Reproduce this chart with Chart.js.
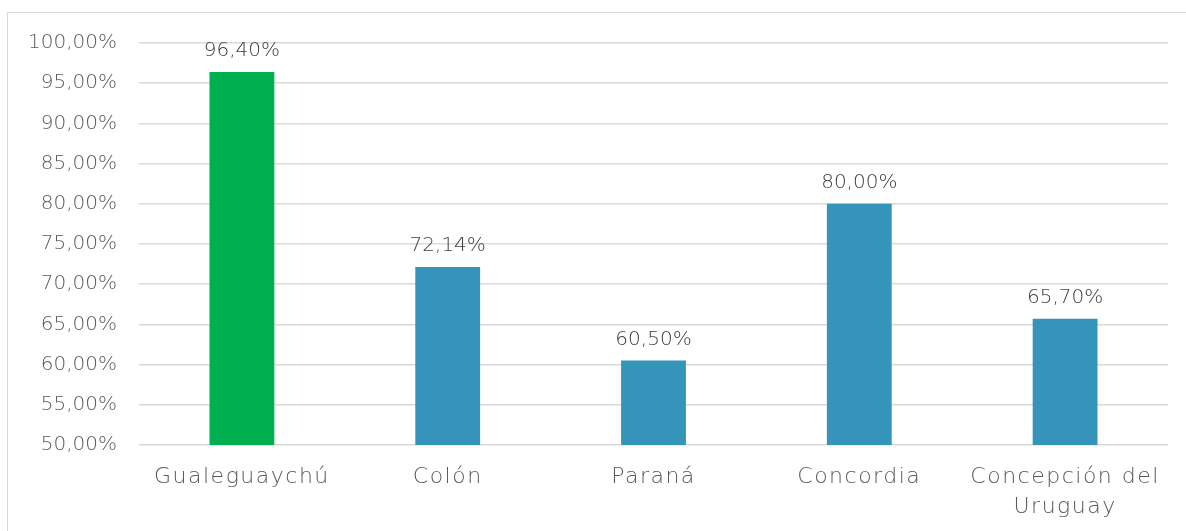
<!DOCTYPE html>
<html>
<head>
<meta charset="utf-8">
<script src="https://cdn.jsdelivr.net/npm/chart.js@4"></script>
<style>
  html, body { margin: 0; padding: 0; background: #fff; overflow: hidden; }
  #wrap { position: relative; width: 1186px; height: 531px; }
  #frame { position: absolute; left: 7px; top: 12px; width: 1200px; height: 540px;
           border: 1.5px solid #d9d9d9; box-sizing: border-box; }
  canvas { position: absolute; left: 0; top: 0; }
</style>
</head>
<body>
<div id="wrap">
  <div id="frame"></div>
  <canvas id="chart" width="1186" height="531"></canvas>
</div>
<script>
// ---------- Data ----------
const cities = ["Gualeguaychú", "Colón", "Paraná", "Concordia", ["Concepción del", "Uruguay"]];
const rates = [96.40, 72.14, 60.50, 80.00, 65.70];
const barColors = ["#00b050", "#3494ba", "#3494ba", "#3494ba", "#3494ba"];

const FONT = "'DejaVu Sans', sans-serif";
const fmt = (v) => v.toFixed(2).replace(".", ",") + "%";

// ---------- Value labels above bars + wider x labels ----------
const valueLabels = {
  id: "valueLabels",
  afterDatasetsDraw(chart) {
    const ctx = chart.ctx;
    const meta = chart.getDatasetMeta(0);
    ctx.save();
    ctx.letterSpacing = "0px";
    ctx.font = "200 20px " + FONT;
    ctx.fillStyle = "#404040";
    ctx.textAlign = "center";
    ctx.textBaseline = "alphabetic";
    meta.data.forEach((bar, i) => {
      ctx.fillText(fmt(rates[i]), bar.x, bar.y - 16);
    });
    ctx.restore();
    // x tick layer (z: 1) draws after this
    ctx.letterSpacing = "1.5px";
  },
  afterDraw(chart) {
    chart.ctx.letterSpacing = "0px";
  }
};

new Chart(document.getElementById("chart").getContext("2d"), {
  type: "bar",
  data: {
    labels: cities,
    datasets: [{
      data: rates,
      backgroundColor: barColors,
      borderWidth: 0,
      barPercentage: 0.63,
      categoryPercentage: 0.5
    }]
  },
  options: {
    responsive: false,
    animation: false,
    // y tick padding also pads the top, so the top value is absolute here
    layout: { padding: { left: 0, right: 18, top: 43, bottom: 0 } },
    plugins: { legend: { display: false }, tooltip: { enabled: false } },
    scales: {
      x: {
        grid: { display: false, drawTicks: false },
        border: { display: false },
        ticks: {
          z: 1,
          color: "#595959",
          font: { family: FONT, size: 22, weight: "200", lineHeight: 1.36 },
          padding: 17,
          maxRotation: 0,
          autoSkip: false
        },
        afterFit: (s) => { s.height = 86; }
      },
      y: {
        min: 50,
        max: 100,
        grid: { color: "#d9d9d9", lineWidth: 1.5, drawTicks: false },
        border: { display: false },
        ticks: {
          stepSize: 5,
          color: "#595959",
          font: { family: FONT, size: 20, weight: "200" },
          padding: 22,
          callback: (v) => fmt(v)
        },
        afterFit: (s) => { s.width = 139; }
      }
    }
  },
  plugins: [valueLabels]
});
</script>
</body>
</html>
